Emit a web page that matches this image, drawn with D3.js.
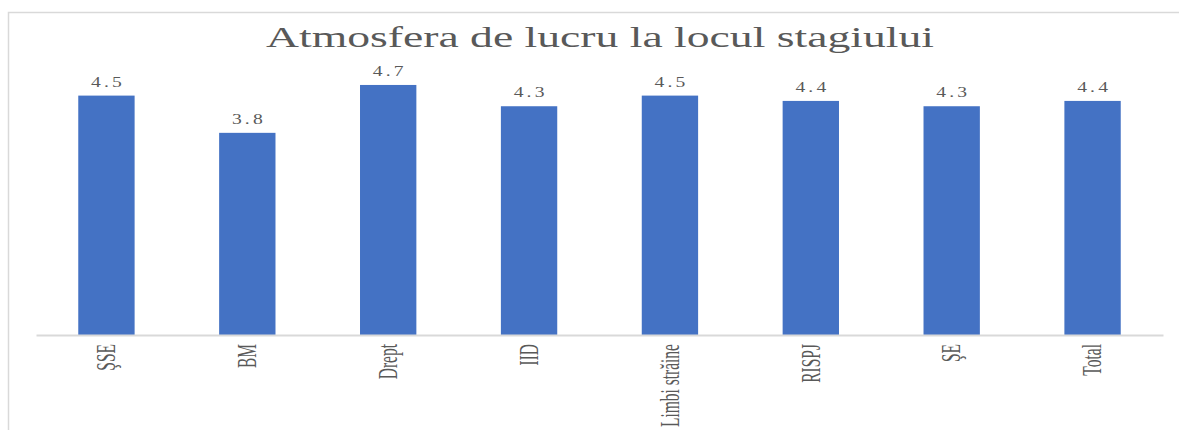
<!DOCTYPE html>
<html>
<head>
<meta charset="utf-8">
<script src="https://cdn.jsdelivr.net/npm/d3@7"></script>
<style>
  html, body { margin: 0; padding: 0; background: #fff; }
  svg { display: block; }
  text { font-family: "Liberation Serif", "DejaVu Serif", serif; fill: #595959; }
</style>
</head>
<body>
<svg id="chart" width="1179" height="430"></svg>
<script>
const categories = ["ŞSE", "BM", "Drept", "IID", "Limbi străine", "RISPJ", "ŞE", "Total"];
const values = [4.5, 3.8, 4.7, 4.3, 4.5, 4.4, 4.3, 4.4];
const yDomain = [0, 5];
const title = "Atmosfera de lucru la locul stagiului";

const W = 1179, H = 430;
const svg = d3.select("#chart");
const stretch = 1.4;
const labelStretch = 1.7;

// outer chart border
svg.append("rect")
  .attr("x", 8.5).attr("y", 12.5)
  .attr("width", W + 20).attr("height", H + 20)
  .attr("fill", "#fff").attr("stroke", "#d9d9d9").attr("stroke-width", 1.5);

const x = d3.scaleBand().domain(categories).range([36, 1163])
  .paddingInner(0.6).paddingOuter(0.3);
const y = d3.scaleLinear().domain(yDomain).range([335, 335 - 5 * 53.2]);

const data = categories.map((c, i) => ({ c, v: values[i] }));

// bars
svg.append("g").selectAll("rect").data(data).join("rect")
  .attr("x", d => x(d.c))
  .attr("y", d => y(d.v))
  .attr("width", x.bandwidth())
  .attr("height", d => y(0) - y(d.v))
  .attr("fill", "#4472C4");

// axis baseline
const axis = svg.append("g").attr("transform", `translate(0,${y(0)})`)
  .call(d3.axisBottom(x).tickSize(0).tickFormat(""));
axis.select(".domain").attr("stroke", "#d9d9d9").attr("stroke-width", 2);

// category labels (rotated)
svg.append("g").selectAll("g").data(data).join("g")
  .attr("transform", d => `translate(${x(d.c) + x.bandwidth() / 2},344) scale(${labelStretch},1) rotate(-90)`)
  .append("text")
  .attr("text-anchor", "end")
  .attr("dy", "0.33em")
  .attr("font-size", 15.5)
  .text(d => d.c);

// value labels
svg.append("g").selectAll("g").data(data).join("g")
  .attr("transform", d => `translate(${x(d.c) + x.bandwidth() / 2},${y(d.v) - 9}) scale(${stretch},1)`)
  .append("text")
  .attr("text-anchor", "middle")
  .attr("font-size", 14)
  .attr("textLength", 22)
  .attr("lengthAdjust", "spacing")
  .text(d => d.v.toFixed(1));

// title
svg.append("text")
  .attr("x", 600).attr("y", 47)
  .attr("text-anchor", "middle")
  .attr("font-size", 29)
  .attr("textLength", 668)
  .attr("lengthAdjust", "spacingAndGlyphs")
  .text(title);
</script>
</body>
</html>
